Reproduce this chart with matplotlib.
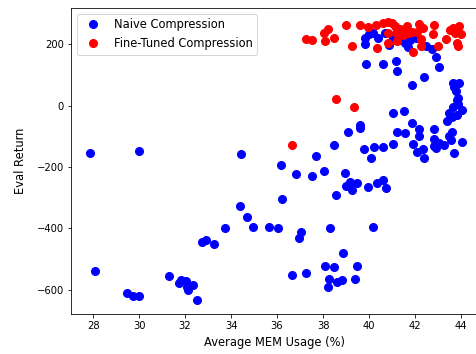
import numpy as np
import matplotlib
matplotlib.use("Agg")
import matplotlib.pyplot as plt

# average memory usage (%) and eval return for each run
naive_mem = [27.87, 28.09, 30.0, 29.48, 29.74, 30.0, 31.32, 31.74, 31.83, 32.04,
             32.14, 32.1, 32.33, 32.54, 32.75, 32.93, 33.26, 33.75, 34.4, 34.7,
             34.94, 35.64, 36.04, 36.2, 34.43, 36.17,
             36.64, 37.25, 37.04, 36.96, 38.32, 38.87, 38.1, 38.48, 39.48, 38.26,
             38.59, 38.84, 39.38, 38.22, 40.16,
             36.81, 37.53, 38.03, 38.94, 39.01, 39.14, 39.28, 39.46, 38.58, 39.94,
             40.35, 40.62, 40.74, 39.17,
             38.48, 37.68, 39.8, 40.2, 40.09,
             41.06, 41.52, 39.62, 39.62, 39.09, 40.62, 41.03, 41.2, 41.58, 41.88,
             42.19, 42.16, 41.91, 42.07, 42.36, 42.39, 42.81, 42.84, 42.81, 42.93,
             43.06, 43.27, 43.48, 43.61, 43.55, 43.68, 44.06, 43.38, 43.47, 43.61,
             43.65, 43.86, 43.86, 44.04, 43.81, 43.64, 43.9, 43.7, 43.78, 43.83,
             39.87, 40.6, 39.83, 39.83, 40.0, 40.19, 40.4, 40.7, 40.87, 41.06,
             41.57, 41.68, 41.78, 42.04, 42.5, 42.74, 42.9, 43.04, 41.17, 41.23,
             41.88, 42.38, 41.35, 41.93]
naive_ret = [-153, -539, -147, -610, -620, -620, -556, -578, -569, -572,
             -601, -590, -583, -634, -443, -439, -451, -397, -327, -362,
             -395, -395, -397, -304, -157, -194,
             -551, -545, -410, -430, -400, -481, -521, -525, -521, -566,
             -576, -567, -565, -592, -395,
             -224, -228, -214, -220, -260, -254, -274, -251, -290, -264,
             -251, -241, -268, -250,
             -127, -165, -140, -133, -171,
             -24, -18, -63, -74, -87, -133, -123, -87, -90, -57,
             -77, -99, -123, -151, -140, -171, -75, -108, -130, -138,
             -122, -127, -100, -84, -113, -154, -119, -49, -24, -36,
             -5, 6, 27, -14, -29, 76, 76, 61, 47, 20,
             137, 136, 200, 221, 233, 237, 221, 239, 197, 221,
             205, 191, 216, 221, 194, 185, 159, 125, 145, 114,
             69, 94, 216, 225]

tuned_mem = [36.64, 38.58, 39.36,
             37.25, 37.54, 38.03, 38.23, 38.1, 38.46, 39.0, 39.26, 39.61, 39.94,
             40.3, 40.62, 40.84, 40.98, 40.81, 40.81, 40.33, 41.17, 41.2, 41.14,
             41.35, 41.64, 41.75, 41.85, 41.9, 42.19, 42.36, 42.25, 42.25, 42.83,
             42.8, 43.01, 43.35, 43.52, 43.66, 43.9, 43.76, 44.0, 43.81, 43.86,
             41.57, 41.5, 42.1]
tuned_ret = [-127, 21, -5,
             218, 214, 239, 251, 211, 222, 262, 195, 264, 258,
             264, 269, 272, 270, 237, 205, 188, 237, 210, 259,
             251, 259, 237, 242, 177, 268, 254, 219, 194, 262,
             235, 196, 218, 248, 254, 259, 237, 235, 205, 196,
             248, 232, 240]

fig = plt.figure(figsize=(476 / 72, 354 / 72), dpi=72)
ax = fig.add_axes([71 / 476, 1 - 314 / 354, (478 - 71) / 476, (314 - 8) / 354])

ax.plot(naive_mem, naive_ret, "o", color="blue", markersize=8, label="Naive Compression")
ax.plot(tuned_mem, tuned_ret, "o", color="red", markersize=8, label="Fine-Tuned Compression")

ax.set_xlim(27.04, 44.74)
ax.set_ylim(-679, 319)
ax.set_xticks(np.arange(28, 45, 2))
ax.set_yticks([-600, -400, -200, 0, 200])
ax.tick_params(labelsize=10)
ax.set_xlabel("Average MEM Usage (%)", fontsize=11.5, labelpad=5)
ax.set_ylabel("Eval Return", fontsize=11.5, labelpad=10)
ax.legend(loc="upper left", fontsize=11.5)

fig.savefig("out.png", dpi=72)
